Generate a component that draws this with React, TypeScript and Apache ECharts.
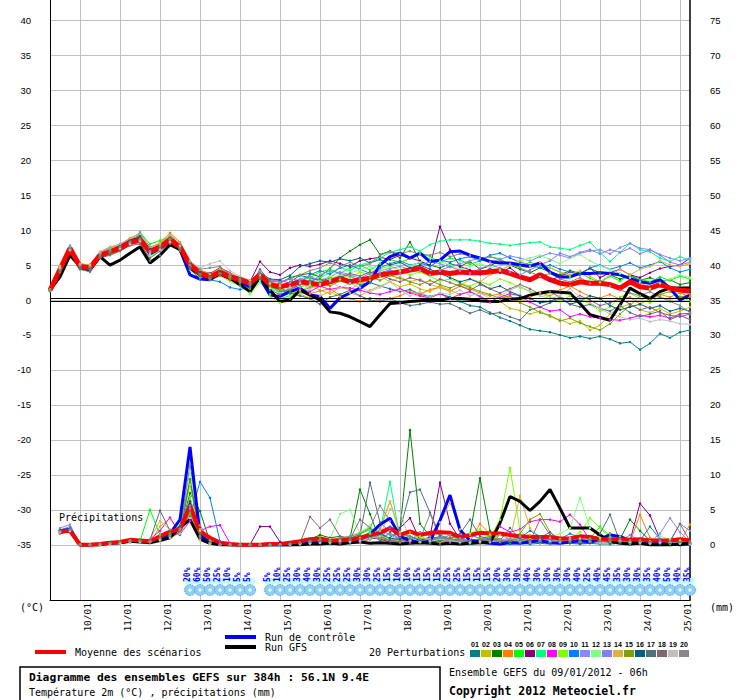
import React, { useEffect, useRef } from "react";
import * as echarts from "echarts";

// ---------- axes / categories ----------
const STEP_HOURS = 6;
const dayHours = [18, 42, 66, 90, 114, 138, 162, 186, 210, 234, 258, 282, 306, 330, 354, 378];
const dayLabels = ["10/01", "11/01", "12/01", "13/01", "14/01", "15/01", "16/01", "17/01", "18/01", "19/01", "20/01", "21/01", "22/01", "23/01", "24/01", "25/01"];
const tempTicks = [-35, -30, -25, -20, -15, -10, -5, 0, 5, 10, 15, 20, 25, 30, 35, 40];
const precipTicks = [0, 5, 10, 15, 20, 25, 30, 35, 40, 45, 50, 55, 60, 65, 70, 75];
const memberNames = ["01", "02", "03", "04", "05", "06", "07", "08", "09", "10", "11", "12", "13", "14", "15", "16", "17", "18", "19", "20"];
const memberColors = ["#008080", "#c0c000", "#008000", "#ff8000", "#00ff00", "#800080", "#00ff80", "#ff00ff", "#80ff00", "#0080ff", "#8888ff", "#80ff80", "#8080f0", "#e0b040", "#80a000", "#006080", "#507080", "#806870", "#c0c0c0", "#888888"];

// ---------- temperature (°C), every 6 h from 09/01 06h ----------
const meanTemp = [1.4, 4.4, 7.4, 4.8, 4.6, 6.4, 6.9, 7.4, 8.2, 8.6, 6.9, 7.6, 8.6, 7.6, 5.0, 3.8, 3.3, 4.0, 3.3, 2.9, 2.4, 3.6, 2.2, 1.9, 2.2, 2.6, 2.4, 2.2, 2.6, 3.1, 2.6, 2.9, 3.1, 3.6, 3.8, 4.0, 4.3, 4.5, 3.8, 4.0, 3.8, 4.0, 3.9, 3.9, 4.0, 4.2, 3.8, 3.3, 2.9, 3.6, 2.9, 2.4, 2.2, 2.6, 2.4, 2.4, 2.2, 1.7, 2.6, 1.9, 1.7, 2.2, 1.7, 1.4, 1.3];
const controlTemp = [1.4, 4.0, 7.2, 4.6, 4.4, 6.2, 6.9, 7.6, 8.4, 8.8, 6.6, 7.4, 8.4, 7.2, 3.6, 3.0, 2.9, 3.8, 3.1, 2.6, 1.9, 3.1, 0.7, 0.5, 1.2, 1.7, 0.7, 0.5, -1.2, 0.3, 1.0, 1.7, 2.6, 5.0, 6.2, 6.7, 6.0, 6.7, 5.5, 5.7, 6.9, 7.0, 6.4, 6.0, 5.5, 5.3, 5.3, 5.0, 4.8, 5.3, 4.0, 3.3, 3.3, 3.8, 3.8, 3.9, 3.8, 3.6, 3.1, 2.6, 2.4, 2.9, 1.7, 0.0, 0.7];
const gfsTemp = [1.4, 3.3, 6.4, 4.8, 4.3, 6.2, 5.0, 5.7, 6.7, 7.6, 5.3, 6.4, 7.9, 7.2, 4.6, 3.6, 3.1, 3.8, 3.1, 2.2, 1.2, 3.3, 1.4, -0.2, 0.0, 1.4, 0.7, 0.0, -1.7, -1.9, -2.4, -3.1, -3.8, -2.1, -0.5, -0.4, -0.2, -0.1, 0.0, 0.0, 0.2, 0.2, 0.1, -0.1, -0.2, -0.2, 0.1, 0.2, 0.7, 1.0, 1.2, 1.1, 1.0, -0.5, -2.1, -2.5, -2.9, -0.7, 1.7, 0.9, 0.2, 1.2, 1.7, 1.7, 1.7];

const p01T = [1.4, 4.2, 7.6, 4.5, 4.3, 6.6, 7.2, 7.8, 8.5, 9.3, 7.2, 7.9, 8.9, 7.4, 4.6, 3.5, 3.0, 3.7, 3.0, 2.6, 2.0, 3.2, 1.8, 1.5, 2.6, 3.5, 3.2, 2.7, 3.1, 3.3, 2.8, 2.2, 2.5, 2.0, 1.6, 1.2, 1.5, 0.8, 0.5, 0.9, 0.4, -0.2, -0.8, -1.0, -1.8, -2.5, -3.0, -3.6, -4.2, -4.4, -4.6, -5.0, -5.4, -5.2, -5.5, -5.2, -5.6, -6.2, -6.0, -7.1, -6.2, -4.8, -5.4, -4.6, -4.3];
const p02T = [1.3, 4.6, 7.2, 5.0, 4.8, 6.2, 7.0, 7.3, 8.3, 8.8, 6.5, 7.3, 8.8, 7.8, 5.2, 3.9, 3.4, 4.2, 3.5, 3.0, 2.3, 3.8, 2.4, 1.6, 1.0, 1.9, 2.2, 1.4, 0.9, 1.8, 1.5, 2.4, 2.8, 3.4, 2.6, 1.9, 2.3, 1.6, 1.2, 2.0, 1.4, 0.8, 1.2, 0.5, -0.4, -0.2, -1.2, -1.5, -2.0, -1.6, -2.4, -2.8, -3.4, -3.0, -4.3, -3.6, -2.0, -1.0, -0.6, -1.4, -1.8, -1.2, -2.0, -1.6, -1.0];
const p03T = [1.5, 4.3, 7.5, 4.7, 4.5, 6.5, 7.1, 7.6, 8.4, 9.0, 7.0, 7.8, 9.2, 7.9, 5.4, 4.0, 3.6, 4.3, 3.4, 2.7, 1.1, 3.5, 2.0, 2.4, 3.2, 3.6, 3.8, 3.3, 4.5, 6.0, 7.0, 7.9, 8.6, 6.5, 7.0, 6.0, 8.3, 5.5, 5.0, 4.6, 5.2, 4.8, 5.5, 4.4, 4.9, 5.6, 5.0, 4.4, 3.9, 4.6, 4.0, 3.6, 4.2, 3.8, 4.5, 3.9, 3.6, 3.0, 3.5, 2.8, 3.2, 2.6, 2.9, 2.2, 2.5];
const p04T = [1.4, 4.8, 7.0, 5.2, 5.0, 6.9, 7.4, 7.9, 8.7, 9.2, 7.4, 8.2, 9.6, 8.3, 5.4, 4.2, 3.6, 4.4, 3.7, 3.2, 2.6, 3.9, 2.5, 1.8, 2.0, 1.5, 0.9, 1.3, 1.6, 0.7, 0.2, -0.2, 0.3, 0.0, 0.2, 0.6, 1.2, 0.8, 1.5, 1.8, 1.2, 2.0, 1.6, 1.0, 0.6, 0.9, 0.2, -0.2, 0.4, 1.1, 0.6, 1.4, 2.0, 1.2, 0.5, 0.3, 0.8, 0.1, 0.4, -0.6, 0.2, 0.8, 0.4, 1.0, 0.5];
const p05T = [1.4, 4.0, 7.8, 4.4, 4.0, 6.0, 6.5, 7.0, 8.0, 9.7, 8.0, 8.5, 9.0, 7.2, 4.6, 3.4, 3.1, 3.6, 3.0, 2.6, 2.2, 3.3, 1.9, 1.2, 1.4, 2.7, 3.2, 4.0, 4.4, 3.8, 4.6, 5.0, 4.3, 5.2, 5.8, 5.4, 5.9, 6.8, 6.2, 5.4, 6.0, 5.7, 5.1, 5.6, 6.2, 5.9, 5.0, 4.8, 5.4, 4.9, 4.6, 4.0, 3.3, 3.9, 3.1, 2.5, 3.4, 2.7, 3.6, 3.0, 2.6, 3.3, 2.8, 3.4, 3.0];
const p06T = [1.3, 4.5, 7.3, 4.9, 4.7, 6.3, 6.8, 7.5, 8.6, 8.9, 6.7, 7.5, 8.4, 7.6, 5.3, 4.2, 3.8, 4.6, 3.9, 3.1, 2.6, 5.5, 4.0, 3.6, 4.6, 5.0, 4.8, 5.1, 5.6, 5.2, 4.8, 5.6, 5.9, 6.1, 5.8, 6.4, 6.0, 5.6, 4.9, 10.5, 7.2, 4.8, 4.3, 3.7, 4.5, 3.9, 4.6, 3.5, 3.0, 3.6, 2.8, 3.4, 4.0, 3.7, 4.6, 3.2, 3.9, 4.4, 3.6, 3.2, 3.9, 4.5, 4.8, 5.0, 6.0];
const p07T = [1.5, 4.1, 7.1, 4.6, 4.4, 6.7, 7.3, 7.7, 8.1, 8.4, 6.4, 7.1, 8.2, 7.3, 4.8, 3.6, 3.0, 3.9, 3.2, 2.8, 1.6, 3.0, 0.8, 0.2, 0.6, 1.8, 2.6, 3.2, 3.9, 4.6, 4.2, 5.0, 5.4, 6.0, 6.8, 7.2, 7.6, 7.0, 7.9, 8.4, 8.6, 8.6, 8.6, 8.4, 8.1, 8.0, 7.8, 8.0, 8.2, 8.3, 7.6, 7.4, 7.2, 7.8, 8.3, 6.8, 5.5, 6.8, 8.1, 7.2, 6.9, 6.0, 5.5, 6.2, 5.7];
const p08T = [1.4, 4.4, 7.6, 4.8, 4.9, 6.5, 7.0, 7.2, 8.0, 8.7, 6.9, 7.7, 8.7, 7.7, 5.1, 3.7, 3.2, 3.9, 3.3, 3.0, 2.4, 3.6, 2.6, 2.8, 2.4, 1.6, 1.2, 2.0, 1.5, 1.8, 1.7, 1.4, 1.0, 0.8, 1.2, 1.6, 1.0, 0.6, 0.3, 0.9, 0.2, 0.8, 1.2, 0.5, -0.2, 0.4, 0.9, 0.6, -0.3, -1.0, -1.6, -1.4, -2.4, -2.0, -2.4, -2.6, -2.8, -2.9, -2.6, -2.2, -2.4, -2.2, -2.6, -2.0, -1.9];
const p09T = [1.4, 4.7, 7.3, 4.9, 4.6, 6.1, 6.7, 7.2, 8.2, 8.5, 6.3, 7.0, 8.3, 7.4, 4.3, 3.2, 2.8, 3.4, 2.7, 2.0, 1.0, 2.8, 0.5, -0.4, 0.2, 0.8, 1.6, 2.4, 3.0, 3.6, 3.2, 4.0, 3.6, 4.4, 4.9, 4.2, 3.6, 4.0, 3.4, 2.7, 3.0, 2.4, 2.0, 2.6, 2.2, 3.0, 2.5, 1.8, 1.2, 0.9, 0.4, -0.2, 0.6, 0.2, -0.6, -1.6, -1.0, 0.4, 1.0, 0.2, -0.4, 0.5, 0.0, 0.6, -0.2];
const p10T = [1.4, 4.3, 7.2, 4.6, 4.4, 6.4, 6.8, 7.4, 8.3, 9.0, 6.8, 7.4, 8.5, 7.3, 4.4, 3.0, 2.9, 2.6, 1.8, 1.5, 1.8, 3.0, 1.6, 1.1, 1.6, 2.5, 3.6, 4.2, 3.7, 4.6, 5.0, 4.4, 3.8, 4.6, 5.2, 5.6, 5.0, 5.3, 4.8, 5.7, 5.4, 5.9, 6.2, 5.6, 6.4, 6.7, 6.0, 5.4, 5.0, 4.6, 5.0, 4.4, 4.0, 3.6, 4.6, 5.0, 4.4, 4.8, 5.3, 4.6, 5.0, 5.5, 4.6, 4.0, 4.4];
const p11T = [1.4, 4.5, 7.7, 5.1, 4.5, 6.8, 7.5, 8.0, 8.8, 9.6, 7.6, 8.0, 9.1, 7.9, 5.0, 3.9, 3.5, 4.1, 3.4, 3.0, 2.5, 3.7, 2.3, 2.0, 2.5, 3.0, 3.4, 2.8, 3.3, 4.0, 3.6, 3.1, 3.8, 4.2, 4.5, 4.8, 4.4, 5.0, 5.5, 5.2, 4.7, 5.2, 5.6, 6.0, 5.4, 5.8, 6.3, 6.0, 5.6, 6.2, 6.7, 6.4, 6.0, 6.7, 7.0, 7.2, 6.6, 7.5, 8.1, 7.4, 7.2, 6.5, 6.0, 5.6, 6.0];
const p12T = [1.4, 4.6, 7.5, 4.9, 4.8, 6.6, 7.0, 7.6, 8.4, 8.6, 6.9, 7.8, 8.7, 7.7, 4.9, 3.7, 3.2, 3.8, 3.3, 2.5, 0.8, 2.5, 1.7, 1.0, 0.6, 1.3, 2.1, 2.9, 3.4, 3.0, 3.9, 4.3, 4.8, 4.1, 4.7, 5.3, 4.9, 5.4, 6.0, 5.5, 5.0, 4.4, 4.8, 5.2, 4.7, 4.3, 5.0, 5.6, 6.0, 6.4, 5.8, 5.2, 6.0, 6.5, 5.6, 4.9, 4.4, 3.8, 3.2, 2.6, 1.6, 2.4, 3.0, 3.6, 3.2];
const p13T = [1.3, 4.3, 7.4, 4.7, 4.3, 6.3, 6.9, 7.3, 8.0, 8.2, 6.6, 7.5, 8.5, 7.5, 5.1, 3.8, 3.4, 4.0, 3.1, 2.8, 2.1, 3.4, 2.9, 2.6, 3.0, 2.8, 2.4, 3.6, 4.2, 3.8, 3.4, 2.8, 3.3, 3.9, 4.3, 3.8, 4.6, 4.2, 3.6, 4.2, 4.8, 4.2, 3.8, 4.5, 5.0, 4.6, 4.0, 3.6, 4.3, 5.0, 5.6, 6.7, 6.2, 6.8, 7.2, 6.6, 7.2, 6.8, 7.4, 6.6, 7.2, 6.4, 5.4, 5.0, 5.4];
const p14T = [1.5, 4.9, 7.1, 5.0, 5.1, 6.9, 7.6, 7.9, 8.9, 9.4, 7.5, 8.1, 9.3, 8.2, 5.6, 4.3, 3.7, 4.5, 3.8, 3.3, 2.8, 4.0, 2.7, 2.2, 1.5, 0.8, 0.3, 0.6, 1.2, 0.5, 1.0, 0.6, 1.4, 2.0, 2.6, 3.3, 2.6, 3.0, 2.2, 1.8, 1.3, 2.0, 3.0, 2.6, 3.6, 4.2, 4.9, 5.6, 4.8, 5.4, 4.6, 4.0, 3.6, 4.2, 3.4, 2.6, 3.6, 4.4, 3.6, 4.4, 4.8, 5.6, 5.0, 4.8, 5.2];
const p15T = [1.4, 4.4, 7.4, 4.8, 4.6, 6.2, 6.8, 7.5, 8.3, 8.9, 7.1, 7.6, 8.6, 7.5, 4.8, 3.6, 3.2, 3.8, 3.1, 2.7, 2.2, 3.4, 2.0, 1.4, 0.9, 1.2, 1.8, 2.4, 2.0, 2.7, 2.3, 2.9, 3.3, 2.8, 3.5, 3.1, 2.6, 2.2, 2.8, 2.2, 1.7, 2.3, 1.8, 1.2, 0.8, 0.2, 0.6, -0.4, -1.0, -1.8, -2.2, -3.0, -2.6, -3.3, -3.8, -4.3, -3.4, -2.0, -0.8, 0.6, 0.0, 0.8, 1.2, 0.4, 0.8];
const p16T = [1.4, 4.2, 7.3, 4.7, 4.6, 6.6, 7.1, 7.7, 8.4, 9.1, 7.3, 7.7, 8.9, 7.9, 5.3, 4.0, 3.4, 4.1, 3.6, 3.2, 2.6, 3.9, 3.0, 2.9, 3.5, 4.8, 5.2, 5.6, 5.4, 5.9, 5.6, 6.0, 5.3, 5.8, 5.0, 5.4, 4.6, 5.0, 4.4, 3.8, 3.2, 2.6, 3.0, 2.4, 1.6, 2.0, 1.2, 0.6, 0.2, -0.4, -0.2, 0.4, -0.6, -0.2, 0.6, 0.2, -0.8, -1.4, -1.0, -0.6, -1.2, -0.8, -1.6, -1.2, -1.6];
const p17T = [1.4, 4.4, 7.1, 4.6, 4.2, 6.1, 6.6, 7.1, 8.1, 8.3, 5.6, 6.4, 8.0, 7.2, 4.7, 3.5, 3.3, 3.6, 3.5, 2.1, 1.9, 4.4, 2.6, 1.8, 1.0, 0.6, 0.2, -0.6, 0.4, 0.8, 1.4, 0.6, 0.0, -0.2, 0.2, -0.4, -0.8, -0.6, -0.3, -0.6, -0.5, -1.2, -1.9, -1.4, -2.0, -1.8, -2.4, -2.9, -1.4, -1.0, -0.4, 0.2, -0.6, -1.0, -0.6, -1.2, -1.6, -0.8, -1.8, -2.4, -2.0, -1.6, -2.8, -2.2, -2.8];
const p18T = [1.3, 4.1, 7.0, 4.4, 4.1, 6.0, 6.4, 7.0, 7.8, 8.0, 6.0, 7.0, 8.1, 7.0, 4.5, 3.4, 2.9, 3.5, 2.9, 2.4, 1.6, 3.1, 1.4, 0.8, 1.4, 2.2, 2.8, 3.0, 2.6, 3.2, 3.8, 3.4, 4.0, 3.6, 3.0, 2.6, 3.2, 2.8, 2.2, 3.0, 2.5, 2.0, 1.4, 2.2, 1.6, 1.0, 1.6, 2.2, 1.6, 0.8, 1.2, 0.4, 0.0, 0.6, 0.0, -0.8, -0.4, 0.2, -0.6, -1.4, -1.0, -1.8, -2.2, -2.4, -2.0];
const p19T = [1.4, 4.5, 7.2, 5.1, 4.9, 6.7, 7.2, 7.4, 8.0, 8.4, 6.5, 7.2, 8.3, 7.8, 5.5, 4.6, 5.2, 5.6, 4.2, 3.4, 2.8, 3.6, 2.4, 2.0, 1.8, 2.4, 1.6, 2.2, 2.8, 1.7, 2.4, 1.8, 1.2, 1.8, 2.6, 1.4, 0.6, 1.2, 0.4, 1.0, 0.8, 1.4, 0.6, 1.0, 0.2, 0.6, 1.4, 2.0, 1.2, 0.6, 0.2, 0.6, 1.6, 0.4, -0.4, -1.2, -2.0, -2.4, -2.8, -2.6, -3.1, -2.8, -3.0, -3.4, -3.5];
const p20T = [1.4, 4.3, 7.5, 4.9, 4.7, 6.5, 7.1, 7.6, 8.3, 8.7, 7.0, 7.7, 8.8, 8.0, 5.4, 4.4, 4.6, 4.8, 3.6, 3.0, 2.5, 3.8, 2.8, 2.5, 3.0, 3.6, 4.2, 4.6, 5.3, 4.8, 5.4, 4.8, 5.2, 6.4, 6.9, 6.6, 7.0, 6.5, 6.4, 6.8, 6.2, 6.6, 6.4, 6.0, 6.2, 5.7, 5.2, 4.6, 4.0, 3.4, 3.8, 3.0, 2.6, 3.2, 2.4, 2.8, 2.0, 1.4, 1.0, 0.6, 1.2, 0.4, -0.2, -0.8, -1.8];

// ---------- precipitation (mm per 6 h) ----------
const meanPrecip = [null, 1.9, 2.0, 0.0, 0.0, 0.1, 0.3, 0.4, 0.7, 0.6, 0.5, 1.2, 1.9, 2.2, 5.6, 1.9, 1.0, 0.3, 0.1, 0.0, 0.0, 0.0, 0.1, 0.1, 0.3, 0.5, 0.8, 0.9, 0.6, 0.6, 0.7, 1.0, 1.4, 1.7, 2.4, 1.4, 1.9, 1.4, 1.7, 1.8, 1.7, 1.1, 1.4, 1.7, 1.6, 1.6, 1.4, 1.2, 1.1, 1.1, 1.1, 0.9, 0.9, 1.2, 1.1, 0.8, 0.8, 0.8, 0.7, 0.8, 0.6, 0.6, 0.6, 0.8, 0.6];
const controlPrecip = [null, 2.0, 2.2, 0, 0, 0.1, 0.3, 0.3, 0.6, 0.5, 0.4, 0.8, 1.6, 3.6, 14.0, 1.4, 0.3, 0.1, 0, 0, 0, 0, 0, 0, 0, 0.1, 0.2, 0.3, 0.2, 0.4, 0.6, 0.8, 1.5, 2.9, 3.8, 1.2, 0.6, 0.3, 0.5, 3.5, 7.1, 2.1, 0.6, 0.4, 0.2, 0.1, 0.3, 0.2, 0.4, 0.6, 0.3, 0.2, 0.4, 0.6, 0.4, 0.8, 1.4, 1.2, 0.6, 0.2, 0.1, 0.2, 0.1, 0.0, 0.1];
const gfsPrecip = [null, 1.8, 2.0, 0, 0, 0, 0.2, 0.3, 0.5, 0.4, 0.3, 0.6, 1.0, 2.5, 3.6, 0.8, 0.2, 0, 0, 0, 0, 0, 0, 0, 0, 0, 0.1, 0.1, 0.2, 0.1, 0.3, 0.4, 0.2, 0.3, 0.2, 0.1, 0.2, 0.3, 0.2, 0.1, 0.2, 0.1, 0.2, 0.3, 0.3, 3.1, 6.9, 6.2, 4.9, 6.2, 7.9, 5.2, 2.4, 2.4, 2.4, 1.4, 0.5, 0.2, 0.1, 0.2, 0.0, 0.0, 0.0, 0.1, 0.2];

const p01P = [null, 1.8, 2.1, 0, 0, 0.1, 0.2, 0.3, 0.5, 0.6, 0.4, 0.9, 1.5, 2.4, 5.2, 1.2, 0.2, 0, 0, 0, 0, 0, 0, 0.1, 0.2, 0.4, 0.3, 0.2, 0.1, 0.3, 0.2, 0.5, 0.8, 1.4, 0.6, 0.3, 0.2, 0.4, 0.2, 0.1, 0.3, 0.2, 0.1, 0.2, 0.4, 0.3, 0.1, 0.2, 0.1, 0.2, 0.1, 0.3, 0.2, 0.1, 0.2, 0.1, 0.1, 0.2, 0.1, 0.1, 0.2, 0.1, 0.1, 0.2, 0.1];
const p02P = [null, 1.9, 2.0, 0, 0, 0, 0.2, 0.4, 0.6, 0.5, 0.3, 2.6, 3.8, 1.8, 6.4, 2.2, 0.6, 0.1, 0, 0, 0, 0, 0, 0, 0.1, 0.2, 0.6, 1.2, 0.4, 0.2, 0.5, 0.8, 1.6, 2.4, 6.2, 1.8, 0.7, 0.4, 1.1, 0.6, 0.8, 0.4, 0.3, 0.6, 0.9, 0.4, 0.6, 0.5, 0.3, 0.4, 0.2, 0.6, 1.0, 0.8, 0.4, 0.2, 0.6, 1.2, 0.5, 0.2, 0.1, 0.2, 0.3, 0.2, 0.1];
const p03P = [null, 2.1, 2.2, 0, 0, 0.1, 0.3, 0.2, 0.4, 0.6, 0.5, 0.8, 1.2, 2.0, 7.4, 4.8, 0.4, 0, 0, 0, 0, 0, 0, 0, 0.2, 0.3, 0.8, 1.4, 1.0, 1.2, 0.9, 7.9, 4.4, 0.6, 1.0, 2.2, 16.4, 3.0, 1.2, 0.8, 0.5, 0.9, 1.6, 9.5, 2.0, 0.6, 0.4, 0.3, 0.6, 0.8, 0.5, 0.3, 0.4, 0.6, 0.4, 0.9, 1.6, 0.8, 3.6, 2.0, 0.6, 0.4, 0.3, 0.2, 0.1];
const p04P = [null, 1.7, 1.9, 0, 0, 0, 0.2, 0.3, 0.5, 0.4, 0.6, 1.0, 1.4, 2.6, 4.2, 0.8, 0.1, 0, 0, 0, 0, 0, 0, 0, 0, 0.1, 0.3, 0.5, 0.6, 0.4, 0.5, 0.3, 0.8, 1.2, 0.6, 0.4, 1.8, 0.9, 0.6, 0.4, 1.1, 0.8, 0.5, 3.0, 1.6, 0.7, 0.4, 1.2, 1.4, 0.9, 0.6, 0.4, 0.3, 0.5, 0.8, 0.6, 1.6, 0.9, 0.4, 4.3, 1.0, 0.3, 0.2, 0.4, 2.9];
const p05P = [null, 2.2, 2.1, 0, 0, 0, 0.1, 0.4, 0.6, 0.5, 5.0, 1.4, 1.0, 1.8, 4.6, 1.2, 0.2, 0, 0, 0, 0, 0, 0, 0.1, 0.1, 0.2, 0.4, 0.6, 0.3, 0.5, 0.9, 1.5, 2.2, 1.0, 1.6, 0.8, 0.5, 0.9, 0.6, 0.8, 1.4, 0.6, 0.4, 0.8, 1.2, 0.6, 0.5, 0.4, 0.8, 0.5, 0.3, 0.4, 0.2, 0.6, 0.9, 2.6, 1.2, 0.6, 0.3, 0.4, 0.2, 0.3, 0.1, 0.6, 0.3];
const p06P = [null, 1.8, 2.0, 0, 0, 0.1, 0.2, 0.3, 0.4, 0.5, 0.3, 0.6, 1.1, 1.7, 5.8, 1.0, 0.2, 0, 0, 0, 0, 2.6, 2.6, 0.4, 0.1, 0.2, 0.5, 0.3, 0.4, 0.6, 0.4, 0.7, 1.0, 0.8, 0.4, 2.4, 3.8, 0.6, 1.1, 8.9, 3.0, 0.8, 0.5, 0.6, 0.4, 0.3, 0.6, 0.5, 0.4, 0.6, 0.8, 0.4, 0.3, 0.5, 0.6, 0.4, 0.3, 0.9, 0.6, 5.9, 4.2, 0.8, 0.4, 0.2, 0.3];
const p07P = [null, 2.0, 2.3, 0, 0, 0.1, 0.2, 0.3, 0.6, 0.8, 0.6, 0.9, 1.6, 2.3, 6.8, 1.6, 0.3, 0, 0, 0, 0, 0, 0, 0, 0, 0.1, 0.2, 0.4, 0.3, 0.5, 0.6, 1.0, 1.8, 2.0, 9.0, 0.8, 0.5, 0.6, 0.4, 1.2, 0.6, 0.9, 1.6, 0.8, 0.4, 1.4, 0.8, 0.6, 0.5, 0.3, 0.4, 0.6, 0.8, 0.5, 0.4, 0.3, 0.6, 0.4, 0.2, 0.3, 0.2, 0.4, 0.3, 0.2, 0.1];
const p08P = [null, 1.6, 2.0, 0, 0, 0, 0.2, 0.3, 0.5, 0.4, 0.8, 2.0, 3.9, 1.5, 3.4, 2.0, 2.6, 2.8, 0.2, 0, 0, 0, 0, 0, 0.1, 0.1, 0.3, 0.5, 0.4, 0.3, 0.6, 0.8, 1.2, 0.9, 2.4, 0.6, 0.4, 0.5, 0.3, 0.6, 0.4, 0.8, 0.5, 0.6, 0.9, 2.6, 1.8, 2.2, 3.3, 3.6, 3.6, 3.3, 4.3, 2.9, 0.6, 0.3, 0.4, 0.6, 0.3, 0.2, 0.4, 0.3, 0.2, 0.3, 0.1];
const p09P = [null, 1.9, 2.1, 0, 0, 0.1, 0.3, 0.2, 0.4, 0.6, 0.4, 0.7, 1.3, 2.0, 8.6, 0.9, 0.1, 0, 0, 0, 0, 0, 0, 0, 0.1, 0.2, 0.3, 0.7, 0.6, 0.9, 1.2, 1.8, 2.5, 1.4, 0.8, 0.6, 0.9, 1.2, 0.7, 0.5, 0.8, 0.6, 1.6, 2.2, 1.0, 3.6, 11.0, 2.0, 0.8, 0.5, 0.4, 0.6, 0.9, 1.8, 3.8, 2.4, 1.0, 0.6, 0.4, 0.3, 0.5, 0.4, 0.2, 0.3, 0.2];
const p10P = [null, 2.0, 1.9, 0, 0, 0, 0.2, 0.3, 0.4, 0.5, 0.4, 0.8, 1.2, 2.2, 4.0, 9.0, 6.7, 0.5, 0, 0, 0, 0, 0, 0, 0, 0.1, 0.2, 0.3, 0.5, 0.4, 0.6, 0.5, 0.9, 1.4, 2.6, 1.0, 0.6, 0.4, 0.8, 1.2, 0.6, 0.4, 0.3, 0.5, 0.8, 0.6, 0.4, 1.0, 2.0, 1.2, 0.6, 0.8, 1.6, 1.0, 0.4, 0.5, 0.9, 0.4, 0.3, 0.6, 2.6, 0.8, 0.3, 0.2, 0.1];
const p11P = [null, 2.4, 2.9, 0, 0, 0.1, 0.2, 0.4, 0.5, 0.6, 0.5, 0.8, 1.4, 2.0, 5.2, 1.1, 0.2, 0, 0, 0, 0, 0, 0, 0, 0.1, 0.2, 0.4, 0.6, 0.4, 0.5, 0.8, 0.6, 1.0, 2.2, 1.4, 0.8, 0.6, 0.5, 0.9, 0.7, 1.4, 0.9, 0.6, 0.4, 0.5, 0.7, 0.9, 1.2, 0.6, 0.4, 0.3, 0.5, 0.8, 0.6, 0.4, 0.6, 0.4, 0.5, 1.4, 0.6, 0.4, 1.6, 3.8, 1.8, 0.4];
const p12P = [null, 1.9, 2.2, 0, 0, 0, 0.2, 0.3, 0.5, 0.6, 0.4, 0.6, 1.3, 2.4, 10.5, 2.0, 0.3, 0, 0, 0, 0, 0, 0, 0, 0, 0.1, 0.3, 0.6, 0.8, 4.4, 5.0, 1.6, 2.8, 1.2, 0.8, 1.6, 0.9, 0.6, 0.5, 0.8, 0.7, 0.4, 0.6, 0.9, 1.4, 0.6, 0.4, 0.3, 0.5, 0.8, 1.0, 1.6, 2.4, 6.7, 2.4, 1.0, 0.6, 0.4, 0.3, 0.5, 0.4, 1.2, 0.8, 0.6, 0.4];
const p13P = [null, 2.1, 2.6, 0, 0, 0.1, 0.2, 0.3, 0.6, 0.5, 0.6, 0.9, 1.5, 2.1, 5.6, 1.4, 0.2, 0, 0, 0, 0, 0, 0, 0, 0, 0.1, 0.2, 0.4, 0.6, 0.5, 0.7, 0.5, 1.2, 0.8, 1.6, 0.9, 0.6, 1.8, 1.2, 0.6, 0.5, 0.8, 0.4, 0.6, 1.0, 0.8, 0.5, 0.4, 0.6, 0.5, 0.8, 0.6, 0.4, 0.3, 0.5, 0.6, 0.4, 0.8, 0.6, 0.4, 0.3, 0.5, 0.6, 3.0, 2.0];
const p14P = [null, 1.8, 2.0, 0, 0, 0, 0.1, 0.2, 0.4, 0.5, 0.8, 3.4, 2.2, 1.6, 6.6, 1.8, 0.3, 0, 0, 0, 0, 0, 0, 0, 0.1, 0.2, 0.4, 0.5, 0.3, 0.6, 0.5, 0.8, 1.2, 2.0, 6.2, 1.4, 0.6, 0.4, 0.8, 3.2, 6.0, 2.2, 0.6, 0.4, 0.6, 1.4, 0.8, 7.0, 2.4, 0.6, 0.4, 0.8, 0.6, 0.5, 0.4, 0.6, 0.9, 0.5, 0.3, 0.4, 0.2, 0.4, 0.3, 0.2, 0.1];
const p15P = [null, 2.0, 2.1, 0, 0, 0, 0.2, 0.4, 0.6, 0.5, 0.4, 0.7, 1.6, 2.8, 9.2, 1.2, 0.2, 0, 0, 0, 0, 0, 0, 0, 0, 0.1, 0.2, 0.3, 0.4, 0.6, 0.5, 0.8, 1.4, 0.9, 0.6, 0.8, 0.5, 0.4, 0.6, 0.9, 0.6, 0.4, 0.5, 0.8, 1.2, 0.6, 0.4, 1.6, 3.6, 4.4, 1.8, 0.6, 0.4, 0.5, 0.3, 0.4, 0.6, 0.5, 0.4, 0.3, 0.2, 0.3, 0.4, 0.3, 0.2];
const p16P = [null, 2.1, 2.3, 0, 0, 0.1, 0.3, 0.4, 0.5, 0.7, 0.5, 0.8, 1.4, 2.6, 6.2, 1.6, 0.3, 0, 0, 0, 0, 0, 0, 0, 0.1, 0.2, 0.4, 0.5, 0.6, 0.8, 1.0, 0.7, 1.2, 1.6, 0.9, 0.8, 1.2, 0.6, 0.4, 0.6, 0.9, 0.5, 0.4, 0.6, 0.3, 0.5, 0.4, 0.3, 0.6, 0.4, 0.3, 0.5, 0.4, 0.2, 0.3, 0.4, 0.3, 0.2, 0.4, 0.3, 0.2, 0.1, 0.2, 0.3, 0.1];
const p17P = [null, 1.9, 2.0, 0, 0, 0.1, 0.2, 0.3, 0.5, 0.6, 0.7, 4.9, 2.0, 1.4, 9.4, 1.6, 0.3, 0, 0, 0, 0, 0, 0, 0, 0.2, 0.4, 0.6, 0.8, 0.5, 0.7, 1.0, 1.4, 8.9, 3.2, 1.8, 2.2, 7.5, 7.9, 4.6, 1.4, 0.8, 1.6, 3.6, 1.2, 0.8, 0.6, 2.4, 0.8, 0.6, 1.0, 1.8, 0.6, 0.4, 0.6, 0.5, 1.6, 4.3, 0.4, 0.5, 0.3, 0.4, 0.3, 0.5, 0.3, 0.2];
const p18P = [null, 1.7, 1.9, 0, 0, 0, 0.2, 0.3, 0.4, 0.5, 0.4, 0.6, 1.1, 1.8, 4.8, 0.9, 0.2, 0, 0, 0, 0, 0, 0, 0, 0.1, 0.2, 4.0, 2.4, 3.6, 1.2, 0.8, 3.6, 2.4, 1.2, 0.6, 0.5, 0.8, 0.4, 0.6, 0.9, 0.5, 0.4, 0.6, 0.8, 0.5, 0.4, 0.6, 0.4, 0.5, 3.6, 1.4, 0.6, 0.5, 0.4, 0.6, 0.5, 0.8, 0.4, 0.3, 0.4, 0.3, 0.6, 0.4, 3.0, 0.5];
const p19P = [null, 1.8, 2.0, 0, 0, 0, 0.1, 0.2, 0.3, 0.4, 0.5, 0.7, 1.0, 1.6, 3.8, 0.6, 0.1, 0, 0, 0, 0, 0, 0, 0, 0, 0.1, 0.2, 0.3, 0.4, 0.6, 0.4, 0.6, 0.9, 1.2, 5.1, 4.8, 0.6, 0.4, 0.5, 0.8, 0.6, 0.4, 0.3, 0.5, 0.4, 0.6, 0.8, 0.5, 0.4, 0.6, 0.5, 0.4, 0.6, 0.9, 0.5, 0.3, 0.4, 0.6, 0.4, 0.3, 0.2, 0.3, 0.4, 0.2, 0.1];
const p20P = [null, 2.0, 2.2, 0, 0, 0.1, 0.2, 0.4, 0.5, 0.6, 0.5, 1.0, 1.4, 2.2, 11.5, 2.8, 0.4, 0, 0, 0, 0, 0, 0, 0, 0.1, 0.2, 0.5, 0.8, 0.6, 1.0, 1.2, 1.6, 2.4, 5.6, 3.4, 1.6, 1.2, 0.8, 4.4, 1.0, 0.8, 0.6, 1.4, 0.9, 0.6, 0.5, 0.8, 0.6, 0.4, 0.6, 0.9, 0.6, 0.5, 0.4, 0.6, 0.5, 0.4, 0.8, 0.6, 0.5, 0.4, 0.6, 0.5, 0.4, 0.3];

// ---------- snow probability (%) ----------
const snowPct = [null, null, null, null, null, null, null, null, null, null, null, null, null, null,
  20, 60, 50, 25, 10, 5, 5, null,
  5, 10, 25, 30, 40, 30, 25, 25, 25, 30, 30, 25, 15, 10, 10, 15, 15, 15, 25, 25, 15,
  15, 15, 20, 30, 30, 40, 30, 30, 30, 30, 40, 25, 40, 45, 35, 30, 30, 35, 40, 50, 40, 35];

const memberTemps = [p01T, p02T, p03T, p04T, p05T, p06T, p07T, p08T, p09T, p10T, p11T, p12T, p13T, p14T, p15T, p16T, p17T, p18T, p19T, p20T];
const memberPrecips = [p01P, p02P, p03P, p04P, p05P, p06P, p07P, p08P, p09P, p10P, p11P, p12P, p13P, p14P, p15P, p16P, p17P, p18P, p19P, p20P];

const Y_MIN = -42.9;
const Y_MAX = 42.9;
const PRECIP_ZERO = -35;
const LABEL_SHIFT = 4.5;
const MONO = "'DejaVu Sans Mono'";

const toPairs = (vals: (number | null)[]) =>
  vals.map((v, i) => [i * STEP_HOURS, v]).filter((p) => p[1] !== null);

function lineSeries(name: string, vals: (number | null)[], color: string, width: number, yAxisIndex: number, withSymbol: boolean, extra: any = {}) {
  return {
    type: "line",
    name,
    data: toPairs(vals),
    xAxisIndex: 0,
    yAxisIndex,
    silent: true,
    symbol: withSymbol ? "circle" : "none",
    symbolSize: 2.5,
    showSymbol: withSymbol,
    lineStyle: { color, width },
    itemStyle: { color },
    ...extra,
  };
}

function txt(x: number, y: number, text: string, font: string, align = "left", fill = "#000") {
  return {
    type: "text",
    x,
    y,
    z: 100,
    silent: true,
    style: { text, font, fill, align, verticalAlign: "middle", textAlign: align, textVerticalAlign: "middle" },
  };
}

function hline(x1: number, x2: number, y: number, color: string, w: number) {
  return { type: "line", z: 100, silent: true, shape: { x1, y1: y, x2, y2: y }, style: { stroke: color, lineWidth: w } };
}

export default function App() {
  const ref = useRef<HTMLDivElement>(null);

  useEffect(() => {
    document.body.style.margin = "0";
    const chart = echarts.init(ref.current as HTMLDivElement, null, { renderer: "svg" });

    const series: any[] = [];
    memberTemps.forEach((vals, k) => {
      const extra: any = k === 0 ? {
        markLine: {
          silent: true,
          symbol: ["none", "none"],
          label: { show: false },
          lineStyle: { color: "#000", width: 1, type: "solid" },
          data: [{ yAxis: 0.2 }, { yAxis: -0.2 }],
        },
      } : {};
      series.push(lineSeries("T" + memberNames[k], vals, memberColors[k], 1, 0, true, extra));
    });
    memberPrecips.forEach((vals, k) => {
      series.push(lineSeries("P" + memberNames[k], vals, memberColors[k], 1, 1, true));
    });
    series.push(lineSeries("ctlT", controlTemp, "#0000ff", 3, 0, false));
    series.push(lineSeries("ctlP", controlPrecip, "#0000ff", 3, 1, false));
    series.push(lineSeries("gfsT", gfsTemp, "#000000", 3, 0, false));
    series.push(lineSeries("gfsP", gfsPrecip, "#000000", 3, 1, false));
    series.push(lineSeries("meanT", meanTemp, "#ff0000", 5, 0, false));
    series.push(lineSeries("meanP", meanPrecip, "#ff0000", 4, 1, false));

    const snowData = snowPct.map((p, i) => [i * STEP_HOURS, p]).filter((d) => d[1] !== null);
    series.push({
      type: "custom",
      xAxisIndex: 0,
      yAxisIndex: 0,
      silent: true,
      z: 10,
      data: snowData,
      renderItem: (params: any, api: any) => {
        const h = api.value(0);
        const p = api.value(1);
        const pt = api.coord([h, Y_MIN]);
        const x = pt[0];
        const yb = pt[1];
        return {
          type: "group",
          children: [
            { type: "rect", shape: { x: x - 5, y: yb - 22, width: 10, height: 6 }, style: { fill: "#c4fcff" } },
            { type: "circle", shape: { cx: x, cy: yb - 10, r: 5.5 }, style: { fill: "#8fcff2", stroke: "#4ea6e0", lineWidth: 1, lineDash: [1.5, 1] } },
            { type: "circle", shape: { cx: x, cy: yb - 10, r: 1.8 }, style: { fill: "#e2f4ff" } },
            {
              type: "text",
              x: x - 2.5,
              y: yb - 18,
              rotation: Math.PI / 2,
              style: { text: p + "%", fill: "#0000ff", font: "bold 8px " + MONO, align: "left", verticalAlign: "middle", textAlign: "left", textVerticalAlign: "middle" },
            },
          ],
        };
      },
    });

    const graphic: any[] = [
      txt(20, 607, "(°C)", "10px " + MONO),
      txt(710, 607, "(mm)", "10px " + MONO),
      txt(59, 517, "Précipitations", "10px " + MONO),
      hline(225, 256, 637, "#0000ff", 4),
      txt(265, 637, "Run de contrôle", "10px " + MONO),
      hline(225, 256, 647, "#000000", 4),
      txt(265, 647, "Run GFS", "10px " + MONO),
      hline(35, 66, 652, "#ff0000", 4),
      txt(75, 652, "Moyenne des scénarios", "10px " + MONO),
      txt(369, 652, "20 Perturbations", "10px " + MONO),
      {
        type: "rect", z: 100, silent: true,
        shape: { x: 20, y: 667, width: 420, height: 40 },
        style: { fill: "none", stroke: "#000", lineWidth: 1.5 },
      },
      txt(29, 677, "Diagramme des ensembles GEFS sur 384h : 56.1N 9.4E", "bold 11.3px " + MONO),
      txt(29, 692, "Température 2m (°C) , précipitations (mm)", "10px " + MONO),
      txt(449, 672.5, "Ensemble GEFS du 09/01/2012 - 06h", "10px " + MONO),
      txt(449, 691, "Copyright 2012 Meteociel.fr", "bold 11.5px " + MONO),
    ];
    memberColors.forEach((c, k) => {
      graphic.push({ type: "rect", z: 100, silent: true, shape: { x: 470 + 11 * k, y: 650, width: 10, height: 7 }, style: { fill: c } });
      graphic.push(txt(475 + 11 * k, 644, memberNames[k], "bold 7px 'Liberation Sans'", "center"));
    });

    const option: any = {
      animation: false,
      backgroundColor: "#ffffff",
      grid: { left: 50, right: 50, top: 0, bottom: 100, containLabel: false, outerBoundsMode: "none" },
      xAxis: [
        {
          type: "value",
          min: 0,
          max: 384,
          position: "bottom",
          axisLine: { show: true, onZero: false, lineStyle: { color: "#000", width: 1 } },
          axisTick: { show: false, customValues: dayHours },
          axisLabel: { show: false },
          splitLine: { show: true, lineStyle: { color: "#c0c0c0", width: 1 } },
        },
        {
          type: "value",
          min: -LABEL_SHIFT,
          max: 384 - LABEL_SHIFT,
          position: "bottom",
          axisLine: { show: false, onZero: false },
          axisTick: { show: false, customValues: dayHours },
          splitLine: { show: false },
          axisLabel: {
            customValues: dayHours,
            rotate: 90,
            margin: 3,
            color: "#000",
            fontFamily: "DejaVu Sans Mono",
            fontSize: 9.5,
            formatter: (v: number) => {
              const idx = dayHours.indexOf(Math.round(v));
              return idx >= 0 ? dayLabels[idx] : "";
            },
          },
        },
      ],
      yAxis: [
        {
          type: "value",
          min: Y_MIN,
          max: Y_MAX,
          position: "left",
          axisLine: { show: true, onZero: false, lineStyle: { color: "#000", width: 1 } },
          axisTick: { show: false, customValues: tempTicks },
          axisLabel: { customValues: tempTicks, margin: 19, color: "#000", fontFamily: "Liberation Sans", fontSize: 9.5, padding: [7, 0, 0, 0] },
          splitLine: { show: true, lineStyle: { color: "#c0c0c0", width: 1 } },
        },
        {
          type: "value",
          min: Y_MIN - PRECIP_ZERO,
          max: Y_MAX - PRECIP_ZERO,
          position: "right",
          axisLine: { show: true, onZero: false, lineStyle: { color: "#000", width: 1.5 } },
          axisTick: { show: false, customValues: precipTicks },
          axisLabel: { customValues: precipTicks, margin: 20, color: "#000", fontFamily: "Liberation Sans", fontSize: 9.5, padding: [7, 0, 0, 0] },
          splitLine: { show: false },
        },
      ],
      graphic: { elements: graphic },
      series,
    };

    chart.setOption(option);
    return () => chart.dispose();
  }, []);

  return <div ref={ref} style={{ position: "fixed", left: 0, top: 0, width: 740, height: 700 }} />;
}
